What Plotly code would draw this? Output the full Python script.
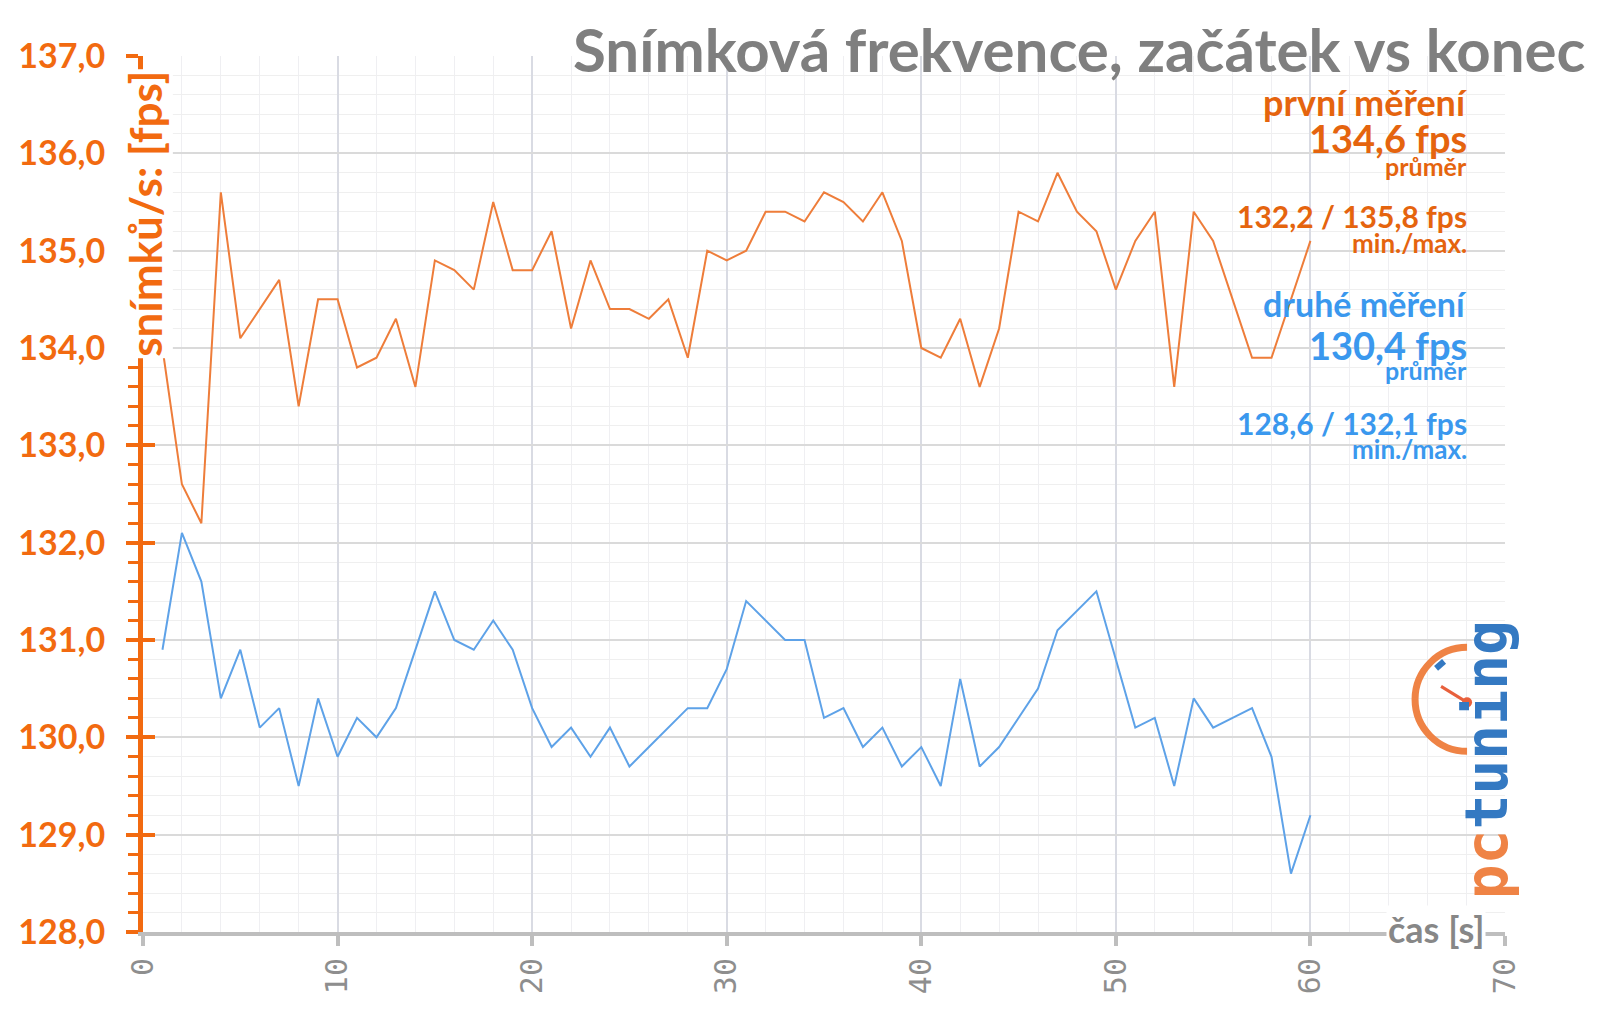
import plotly.graph_objects as go

# ---------------- data ----------------
time_s = list(range(1, 61))
first_run = [134.0, 132.6, 132.2, 135.6, 134.1, 134.4, 134.7, 133.4, 134.5, 134.5,
             133.8, 133.9, 134.3, 133.6, 134.9, 134.8, 134.6, 135.5, 134.8, 134.8,
             135.2, 134.2, 134.9, 134.4, 134.4, 134.3, 134.5, 133.9, 135.0, 134.9,
             135.0, 135.4, 135.4, 135.3, 135.6, 135.5, 135.3, 135.6, 135.1, 134.0,
             133.9, 134.3, 133.6, 134.2, 135.4, 135.3, 135.8, 135.4, 135.2, 134.6,
             135.1, 135.4, 133.6, 135.4, 135.1, 134.5, 133.9, 133.9, 134.5, 135.1]
second_run = [130.9, 132.1, 131.6, 130.4, 130.9, 130.1, 130.3, 129.5, 130.4, 129.8,
              130.2, 130.0, 130.3, 130.9, 131.5, 131.0, 130.9, 131.2, 130.9, 130.3,
              129.9, 130.1, 129.8, 130.1, 129.7, 129.9, 130.1, 130.3, 130.3, 130.7,
              131.4, 131.2, 131.0, 131.0, 130.2, 130.3, 129.9, 130.1, 129.7, 129.9,
              129.5, 130.6, 129.7, 129.9, 130.2, 130.5, 131.1, 131.3, 131.5, 130.8,
              130.1, 130.2, 129.5, 130.4, 130.1, 130.2, 130.3, 129.8, 128.6, 129.2]

title_text = "Snímková frekvence, začátek vs konec"
y_title = "snímků/s: [fps]"
x_title = "čas [s]"
first_label = ["první měření", "134,6 fps", "průměr", "132,2 / 135,8 fps", "min./max."]
second_label = ["druhé měření", "130,4 fps", "průměr", "128,6 / 132,1 fps", "min./max."]

# ---------------- style ----------------
ORANGE_AX = "#F26A10"
ORANGE_TXT = "#E5640E"
ORANGE_LINE = "#EE7D3A"
BLUE_TXT = "#3A98EE"
BLUE_LINE = "#5EA2E8"
GRAY_AX = "#BEBEBE"
GRAY_TXT = "#878787"
FONT = "Lato"

fig = go.Figure()
fig.add_trace(go.Scatter(x=time_s, y=first_run, mode="lines",
                         line=dict(color=ORANGE_LINE, width=2), showlegend=False))
fig.add_trace(go.Scatter(x=time_s, y=second_run, mode="lines",
                         line=dict(color=BLUE_LINE, width=2), showlegend=False))
# invisible trace to activate overlay axis (crossing major ticks)
fig.add_trace(go.Scatter(x=[None], y=[None], yaxis="y2", showlegend=False))

fig.update_layout(
    width=1600, height=1015, autosize=False,
    margin=dict(l=143, r=95, t=56, b=83),
    paper_bgcolor="white", plot_bgcolor="white",
    separators=", ",
    font=dict(family=FONT),
    xaxis=dict(
        range=[0, 70], dtick=10, tick0=0,
        showline=True, linecolor=GRAY_AX, linewidth=4,
        ticks="outside", ticklen=10, tickwidth=4, tickcolor=GRAY_AX,
        tickangle=-90,
        tickfont=dict(family="DejaVu Sans Mono", size=30, color="#8E8E8E"),
        showgrid=True, gridcolor="#D9DBE3", gridwidth=2,
        minor=dict(dtick=2, showgrid=True, gridcolor="#EFEFF2", gridwidth=1),
        zeroline=False, fixedrange=True,
    ),
    yaxis=dict(
        range=[128, 137], dtick=1, tick0=128, tickformat=".1f",
        showline=True, linecolor=ORANGE_AX, linewidth=5,
        ticks="outside", ticklen=12, tickwidth=4, tickcolor=ORANGE_AX,
        ticklabelstandoff=14,
        tickfont=dict(family=FONT, size=34, color=ORANGE_AX, weight="bold"),
        showgrid=True, gridcolor="#DADADA", gridwidth=2,
        minor=dict(dtick=0.2, ticks="outside", ticklen=10, tickwidth=3,
                   tickcolor=ORANGE_AX, showgrid=True, gridcolor="#EFEFEF", gridwidth=1),
        zeroline=False, fixedrange=True,
    ),
    yaxis2=dict(
        range=[128, 137], dtick=1, tick0=128, overlaying="y", side="left",
        ticks="inside", ticklen=12, tickwidth=4, tickcolor=ORANGE_AX,
        showticklabels=False, showgrid=False, showline=False, zeroline=False,
        fixedrange=True,
    ),
)

ann = []
# chart title
ann.append(dict(text=title_text, xref="paper", yref="paper", x=1.06, y=1.008,
                xanchor="right", yanchor="middle", showarrow=False,
                font=dict(family=FONT, size=60, color="#7F7F7F", weight="bold")))
# y axis title, over the axis line with white background
ann.append(dict(text=y_title, xref="paper", yref="paper", x=0.0015, y=0.82,
                xanchor="center", yanchor="middle", textangle=-90, showarrow=False,
                bgcolor="white",
                font=dict(family=FONT, size=44, color=ORANGE_AX, weight="bold")))
# x axis title
ann.append(dict(text=x_title, xref="x", yref="paper", x=66.45, y=0.003,
                xanchor="center", yanchor="middle", showarrow=False, bgcolor="white",
                font=dict(family=FONT, size=36, color=GRAY_TXT, weight="bold")))

sizes_first = [36, 38, 25, 30, 26]
sizes_second = [34, 38, 25, 30, 26]
ys_first = [0.948, 0.906, 0.875, 0.817, 0.787]
ys_second = [0.717, 0.670, 0.641, 0.581, 0.551]
for txt, yy, sz in zip(first_label, ys_first, sizes_first):
    ann.append(dict(text=txt, xref="paper", yref="paper", x=0.9736, y=yy,
                    xanchor="right", yanchor="middle", showarrow=False,
                    font=dict(family=FONT, size=sz, color=ORANGE_TXT, weight="bold")))
for txt, yy, sz in zip(second_label, ys_second, sizes_second):
    ann.append(dict(text=txt, xref="paper", yref="paper", x=0.9736, y=yy,
                    xanchor="right", yanchor="middle", showarrow=False,
                    font=dict(family=FONT, size=sz, color=BLUE_TXT, weight="bold")))

# logo text
ann.append(dict(text='<span style="color:#EF8345">pc</span><span style="color:#3479C2">tuning</span>',
                xref="paper", yref="paper", x=0.9868, y=0.196, xanchor="center",
                yanchor="middle", textangle=-90, showarrow=False,
                font=dict(family="DejaVu Sans Mono", size=58, weight="bold")))
fig.update_layout(annotations=ann)

# logo gauge (decoration)
gx, gy = 68.05, 130.39
fig.add_shape(type="path", xref="x", yref="y", xsizemode="pixel", ysizemode="pixel",
              xanchor=gx, yanchor=gy,
              path="M0,52 C-28.7,52 -52,28.7 -52,0 C-52,-28.7 -28.7,-52 0,-52",
              line=dict(color="#EF8345", width=7))
fig.add_shape(type="line", xref="x", yref="y", xsizemode="pixel", ysizemode="pixel",
              xanchor=gx, yanchor=gy, x0=-26, y0=13, x1=0, y1=-3,
              line=dict(color="#E8603C", width=3))
fig.add_shape(type="circle", xref="x", yref="y", xsizemode="pixel", ysizemode="pixel",
              xanchor=gx, yanchor=gy, x0=-5, y0=-8, x1=5, y1=2,
              fillcolor="#E8603C", line=dict(width=0))
fig.add_shape(type="line", xref="x", yref="y", xsizemode="pixel", ysizemode="pixel",
              xanchor=gx, yanchor=gy, x0=-31, y0=31, x1=-23, y1=38,
              line=dict(color="#3479C2", width=6))

fig.write_html("out.html")
